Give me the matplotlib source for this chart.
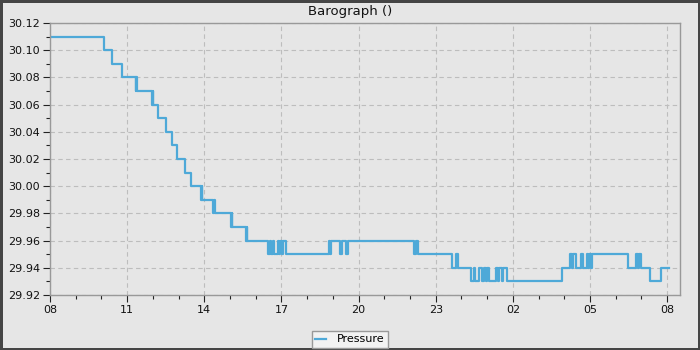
import matplotlib
matplotlib.use("Agg")
import matplotlib.pyplot as plt
from matplotlib.ticker import MultipleLocator, FormatStrFormatter

# hours after 08:00, and pressure in inHg (step changes)
hours = [0.09, 2.10, 2.41, 2.81, 3.33, 3.36, 3.39, 3.95, 3.99, 4.02, 4.19,
         4.50, 4.75, 4.94, 5.25, 5.48, 5.86, 5.90, 5.93, 6.34, 6.37, 6.40,
         7.03, 7.06, 7.09, 7.61, 7.65, 7.68,
         8.47, 8.56, 8.60, 8.66, 8.72, 8.87, 8.92, 8.96, 9.02, 9.07, 9.18,
         10.84, 10.88, 10.91, 11.28, 11.35, 11.52, 11.60,
         14.16, 14.22, 14.30,
         15.64, 15.78, 15.88,
         16.36, 16.47, 16.52, 16.70, 16.80, 16.88, 16.95, 17.00, 17.08,
         17.34, 17.42, 17.46, 17.58, 17.63, 17.76,
         19.91, 20.22, 20.29, 20.33, 20.46, 20.65, 20.74, 20.87, 20.93,
         20.98, 21.02, 21.08,
         22.49, 22.80, 22.86, 22.90, 22.97,
         23.34, 23.77, 24.09]
pressure = [30.11, 30.10, 30.09, 30.08, 30.07, 30.08, 30.07, 30.06, 30.07, 30.06, 30.05,
            30.04, 30.03, 30.02, 30.01, 30.00, 29.99, 30.00, 29.99, 29.98, 29.99, 29.98,
            29.97, 29.98, 29.97, 29.96, 29.97, 29.96,
            29.95, 29.96, 29.95, 29.96, 29.95, 29.96, 29.95, 29.96, 29.95, 29.96, 29.95,
            29.96, 29.95, 29.96, 29.95, 29.96, 29.95, 29.96,
            29.95, 29.96, 29.95,
            29.94, 29.95, 29.94,
            29.93, 29.94, 29.93, 29.94, 29.93, 29.94, 29.93, 29.94, 29.93,
            29.94, 29.93, 29.94, 29.93, 29.94, 29.93,
            29.94, 29.95, 29.94, 29.95, 29.94, 29.95, 29.94, 29.95, 29.94,
            29.95, 29.94, 29.95,
            29.94, 29.95, 29.94, 29.95, 29.94,
            29.93, 29.94, 29.94]

tick_hours = [0, 3, 6, 9, 12, 15, 18, 21, 24]
tick_labels = ["08", "11", "14", "17", "20", "23", "02", "05", "08"]

bg = "#e6e6e6"
line_color = "#4ea9d8"

fig = plt.figure(figsize=(7, 3.5), dpi=100)
fig.patch.set_facecolor(bg)
fig.patch.set_edgecolor("#454545")
fig.patch.set_linewidth(2.2)

ax = fig.add_axes([50 / 700, 1 - 295 / 350, 630 / 700, 272 / 350])
ax.set_facecolor(bg)

ax.plot(hours, pressure, drawstyle="steps-post", color=line_color,
        linewidth=1.6, label="Pressure")

ax.set_xlim(0, 24.5)
ax.set_ylim(29.92, 30.12)
ax.set_xticks(tick_hours)
ax.set_xticklabels(tick_labels)
ax.xaxis.set_minor_locator(MultipleLocator(1))
ax.yaxis.set_major_locator(MultipleLocator(0.02))
ax.yaxis.set_minor_locator(MultipleLocator(0.01))
ax.yaxis.set_major_formatter(FormatStrFormatter("%.2f"))

ax.tick_params(which="major", length=5, width=0.8, color="#222222",
               labelsize=8, labelcolor="#111111", pad=2)
ax.tick_params(which="minor", length=3, width=0.8, color="#222222")

ax.grid(True, which="major", color="#bdbdbd", linestyle=(0, (4, 3)),
        linewidth=0.8)
ax.set_axisbelow(True)

for side in ["left", "bottom", "top", "right"]:
    ax.spines[side].set_color("#999999")
    ax.spines[side].set_linewidth(1.0)

fig.text(0.5, 1 - 11 / 350, "Barograph ()", ha="center", va="center",
         fontsize=9.5, color="#111111")

leg = fig.legend(loc="lower center", bbox_to_anchor=(0.5, 0.0), ncol=1,
                 fontsize=8, frameon=True, fancybox=False,
                 handlelength=1.0, borderpad=0.3, handletextpad=1.0,
                 borderaxespad=0.2)
leg.get_frame().set_facecolor("#f2f2f2")
leg.get_frame().set_edgecolor("#999999")
leg.get_frame().set_alpha(1)

fig.savefig("out.png", dpi=100, facecolor=fig.get_facecolor(),
            edgecolor=fig.get_edgecolor())
